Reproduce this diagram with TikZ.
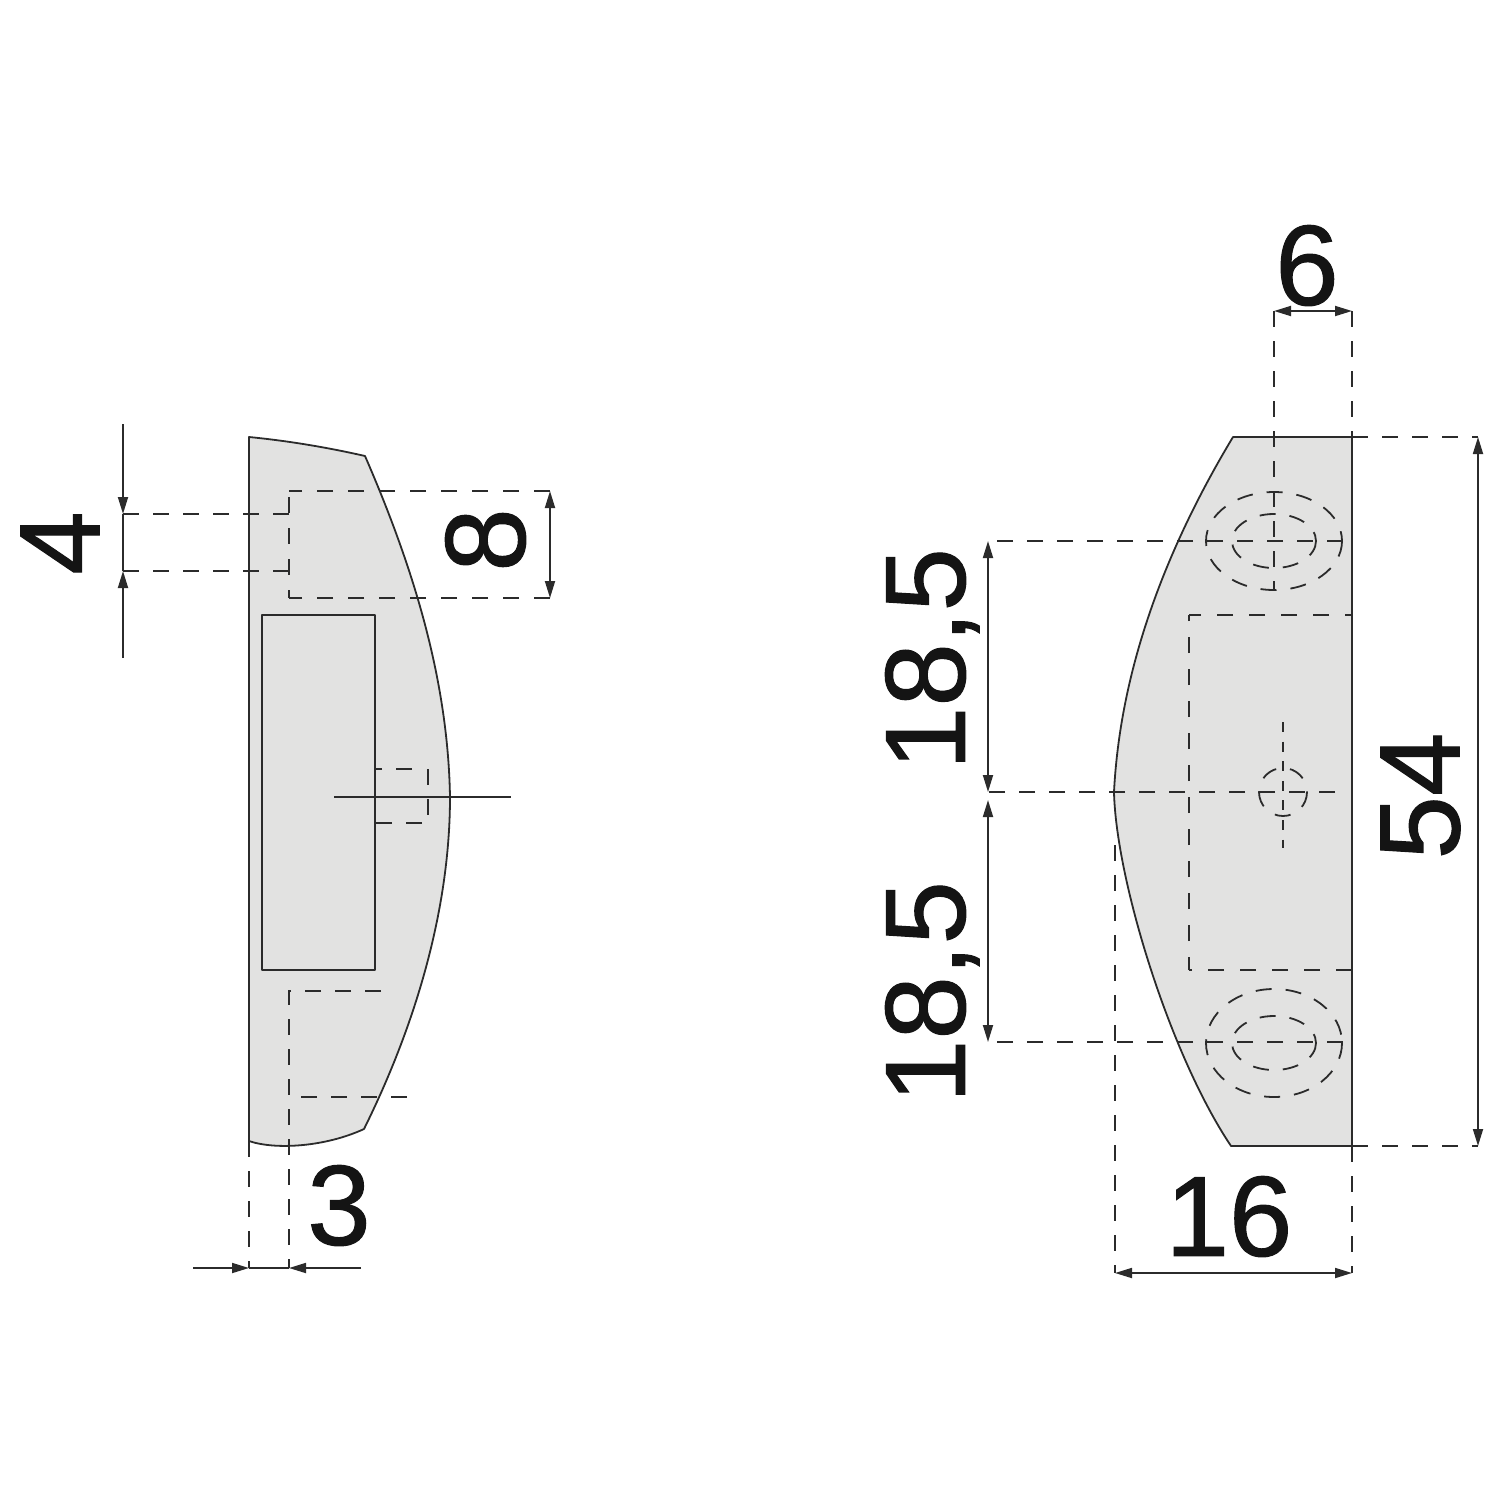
\documentclass[tikz,border=0pt]{standalone}
\usepackage{fontspec}
\setmainfont{Liberation Sans}
\usetikzlibrary{arrows.meta}
\definecolor{partgray}{HTML}{E2E2E1}
\definecolor{inkgray}{HTML}{2B2B2B}
\tikzset{
  outline/.style={draw=inkgray,line width=1.8pt,line join=round},
  hidden/.style={draw=inkgray,line width=1.8pt,dash pattern=on 16pt off 14pt},
  hiddenwide/.style={hidden,dash pattern=on 16pt off 15pt},
  hiddenrect/.style={hidden,dash pattern=on 16pt off 16pt},
  dimline/.style={draw=inkgray,line width=1.8pt,<->},
  dimlabel/.style={inner sep=0pt,text depth=0pt,text=black!92,font=\fontsize{114}{114}\selectfont\addfontfeature{FakeBold=1}}
}
\begin{document}
\begin{tikzpicture}[x=1pt,y=-1pt,>={Stealth[length=17pt,width=10pt,inset=0pt]}]
\useasboundingbox (0,0) rectangle (1500,1500);
% left part
\filldraw[fill=partgray,outline] (249,437) .. controls (290,441) and (330,448) .. (365,456) .. controls (415,571) and (448,682) .. (450,797) .. controls (450,905) and (418,1020) .. (364,1129) .. controls (325,1147) and (275,1150) .. (249,1141)--cycle;
\draw[outline] (262,615) rectangle (375,970);
\draw[hidden] (123,514)--(289,514) (123,571)--(289,571);
\draw[hiddenwide] (550,491)--(289,491) (289,497)--(289,598) (550,598)--(289,598);
\draw[hidden] (412,769)--(375,769) (428,769)--(428,823)--(375,823);
\draw[hidden] (381,991)--(289,991)--(289,1268) (407,1097)--(289,1097) (249,1141)--(249,1268);
\draw[outline] (334,797)--(511,797);
\draw[dimline,-{>}] (123,424)--(123,514);
\draw[dimline,-{>}] (123,658)--(123,571);
\draw[outline] (123,514)--(123,571);
\draw[dimline,-{>}] (193,1268)--(249,1268);
\draw[dimline,-{>}] (361,1268)--(289,1268);
\draw[outline] (249,1268)--(289,1268);
\draw[dimline] (550,491)--(550,598);
% right part
\filldraw[fill=partgray,outline] (1233,437)--(1352,437)--(1352,1146)--(1231,1146) .. controls (1170,1055) and (1116,880) .. (1114,792) .. controls (1120,674) and (1162,555) .. (1233,437)--cycle;
\foreach \y/\r in {541/49,1043/54}{
  \draw[hidden] (1274,\y) ellipse (68 and \r);
  \draw[hidden] (1274,\y) ellipse (42 and 27);
}
\draw[hidden] (1274,311)--(1274,590) (1352,311)--(1352,437);
\draw[hidden] (1352,437)--(1478,437) (1352,1146)--(1478,1146);
\draw[hidden] (1343,541)--(988,541) (1343,1042)--(988,1042) (1335,792)--(988,792);
\draw[hiddenrect,dash phase=9pt] (1352,615)--(1189,615);
\draw[hiddenrect,dash phase=3pt] (1189,970)--(1189,615);
\draw[hiddenrect] (1352,970)--(1189,970);
\draw[hidden,dash pattern=on 10pt off 9.6pt] (1283,722)--(1283,848);
\draw[hidden] (1283,792) circle (24);
\draw[hidden] (1115,845)--(1115,1273) (1352,1146)--(1352,1273);
\draw[dimline] (1274,311)--(1352,311);
\draw[dimline] (1478,437)--(1478,1146);
\draw[dimline] (988,541)--(988,792);
\draw[dimline] (988,800)--(988,1042);
\draw[dimline] (1115,1273)--(1352,1273);
% labels
\foreach \n/\x/\y/\r/\z in {four/60/543/90/4,eight/485/540/90/8,three/339/1205/0/3,six/1307/265/0/6,sixteen/1229/1216/0/16,fiftyfour/1420/796/90/54,upper/925/659/90/{18,5},lower/925/992/90/{18,5}}
\node[dimlabel,rotate=\r] (\n) at (\x,\y) {\z};
\end{tikzpicture}
\end{document}
